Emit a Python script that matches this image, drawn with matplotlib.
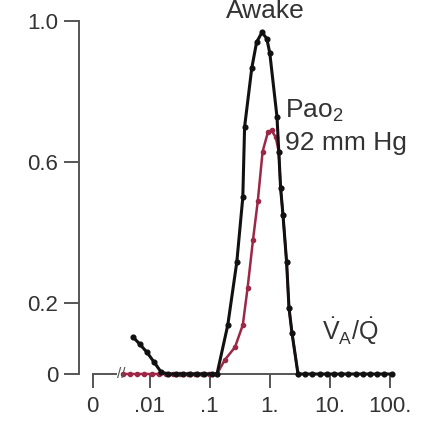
import numpy as np
import matplotlib.pyplot as plt

plt.rcParams['font.family'] = ['Liberation Sans', 'DejaVu Sans']
plt.rcParams['mathtext.fontset'] = 'custom'
plt.rcParams['mathtext.rm'] = 'Liberation Sans'
plt.rcParams['mathtext.it'] = 'Liberation Sans'

# log10(VA/Q) и доли - черная кривая
black_x = [-2.28, -2.17, -2.05, -1.93, -1.81, -1.69, -1.57, -1.45, -1.33, -1.21,
           -1.09, -0.97, -0.88, -0.70, -0.55, -0.45, -0.42, -0.30, -0.22, -0.13,
           -0.05, 0.0, 0.12, 0.15, 0.18, 0.22, 0.28, 0.32, 0.37, 0.47,
           0.59, 0.71, 0.83, 0.95, 1.07, 1.19, 1.31, 1.43, 1.55, 1.67,
           1.79, 1.91, 2.03]
black_y = [0.105, 0.085, 0.062, 0.034, 0.005, 0, 0, 0, 0, 0,
           0, 0, 0, 0.139, 0.317, 0.50, 0.70, 0.867, 0.94, 0.968,
           0.95, 0.909, 0.728, 0.629, 0.527, 0.45, 0.317, 0.187, 0.116, 0,
           0, 0, 0, 0, 0, 0, 0, 0, 0, 0,
           0, 0, 0]

# красная кривая
red_x = [-2.45, -2.33, -2.21, -2.09, -1.97, -1.85, -1.73, -1.61, -1.49, -1.37,
         -1.25, -1.13, -1.01, -0.88, -0.75, -0.58, -0.45, -0.37, -0.28, -0.20,
         -0.12, -0.03, 0.03, 0.10, 0.15, 0.18, 0.22, 0.28, 0.32, 0.37, 0.47]
red_y = [0, 0, 0, 0, 0, 0, 0, 0, 0, 0,
         0, 0, 0, 0, 0.04, 0.076, 0.139, 0.244, 0.38, 0.49,
         0.63, 0.686, 0.69, 0.67, 0.629, 0.527, 0.45, 0.317, 0.187, 0.116, 0]

x_ticks = [-2.95, -2, -1, 0, 1, 2]
x_labels = ["0", ".01", ".1", "1.", "10.", "100."]
y_ticks = [0, 0.2, 0.6, 1.0]
y_labels = ["0", "0.2", "0.6", "1.0"]

grey = '#555555'
txt = '#333333'

fig = plt.figure(figsize=(4.24, 4.23), dpi=100)
ax = fig.add_axes([79 / 424, 49 / 423, 333 / 424, 353 / 423])
ax.set_xlim(-3.18, 2.37)
ax.set_ylim(0, 1.0)

ax.plot(red_x, red_y, '-o', color='#9c2747', lw=1.8, ms=3, clip_on=False, zorder=2,
        solid_joinstyle='round')
ax.plot(black_x, black_y, '-o', color='#111111', lw=2.2, ms=3.4, clip_on=False, zorder=3,
        solid_joinstyle='round')

# оси
for side in ['top', 'right', 'bottom']:
    ax.spines[side].set_visible(False)
ax.spines['left'].set_color(grey)
ax.spines['left'].set_linewidth(1.4)
ax.spines['left'].set_bounds(0, 1.0)

# ось X с разрывом
ax.plot([-2.95, -2.57], [0, 0], color=grey, lw=1.4, clip_on=False, zorder=1)
ax.plot([-2.40, 2.06], [0, 0], color=grey, lw=1.4, clip_on=False, zorder=1)
ax.text(-2.48, 0.0, "//", fontsize=11, color=grey, ha='center', va='center')

ax.set_xticks(x_ticks)
ax.set_xticklabels(x_labels)
ax.set_yticks(y_ticks)
ax.set_yticklabels(y_labels)
ax.tick_params(axis='y', length=11, width=1.4, color=grey, pad=4, labelsize=16, labelcolor=txt)
ax.tick_params(axis='x', length=10, width=1.4, color=grey, pad=6, labelsize=16, labelcolor=txt)

fig.text(265 / 424, 1 - 18 / 423, "Awake", ha='center', va='baseline', fontsize=19, color=txt)
fig.text(285 / 424, 1 - 118 / 423, r"Pao$_\mathregular{2}$", ha='left', va='baseline', fontsize=19, color=txt)
fig.text(285 / 424, 1 - 150 / 423, "92 mm Hg", ha='left', va='baseline', fontsize=19, color=txt)
fig.text(322 / 424, 1 - 340 / 423, r"$\dot{\mathrm{V}}_\mathrm{A}/\dot{\mathrm{Q}}$", ha='left', va='baseline',
         fontsize=18, color=txt)

plt.savefig("out.png", dpi=100)
